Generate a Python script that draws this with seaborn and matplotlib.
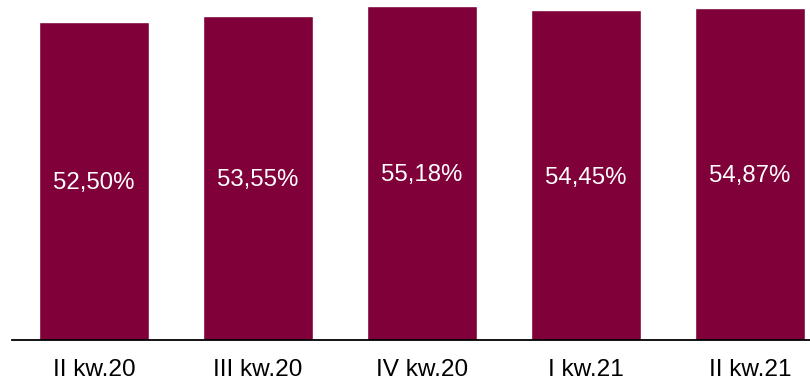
import matplotlib
matplotlib.use("Agg")
import matplotlib.pyplot as plt
import seaborn as sns
import pandas as pd

categories = ["II kw.20", "III kw.20", "IV kw.20", "I kw.21", "II kw.21"]
values = [52.50, 53.55, 55.18, 54.45, 54.87]
labels = ["52,50%", "53,55%", "55,18%", "54,45%", "54,87%"]

sns.set_theme(style="white")
plt.rcParams['font.family'] = ['Liberation Sans', 'DejaVu Sans']

df = pd.DataFrame({"cat": categories, "val": values})

fig = plt.figure(figsize=(8.10, 3.85), dpi=100)
ax = fig.add_axes([12/810, 45/385, 820/810, 340/385])
sns.barplot(data=df, x="cat", y="val", color="#80003A", saturation=1, width=0.665, ax=ax)

ax.set_xlim(-0.5, 4.5)
ax.set_ylim(0, 56.15)
for i, (v, t) in enumerate(zip(values, labels)):
    ax.text(i, v / 2 - 0.4, t, ha="center", va="center", color="white", fontsize=17.3)

ax.set_xlabel("")
ax.set_ylabel("")
ax.set_yticks([])
for s in ["top", "right", "left"]:
    ax.spines[s].set_visible(False)
ax.spines["bottom"].set_color("black")
ax.spines["bottom"].set_linewidth(1.3)
ax.tick_params(axis="x", length=0, pad=13.5, labelsize=17.6, colors="black")

fig.savefig("out.png", dpi=100)
